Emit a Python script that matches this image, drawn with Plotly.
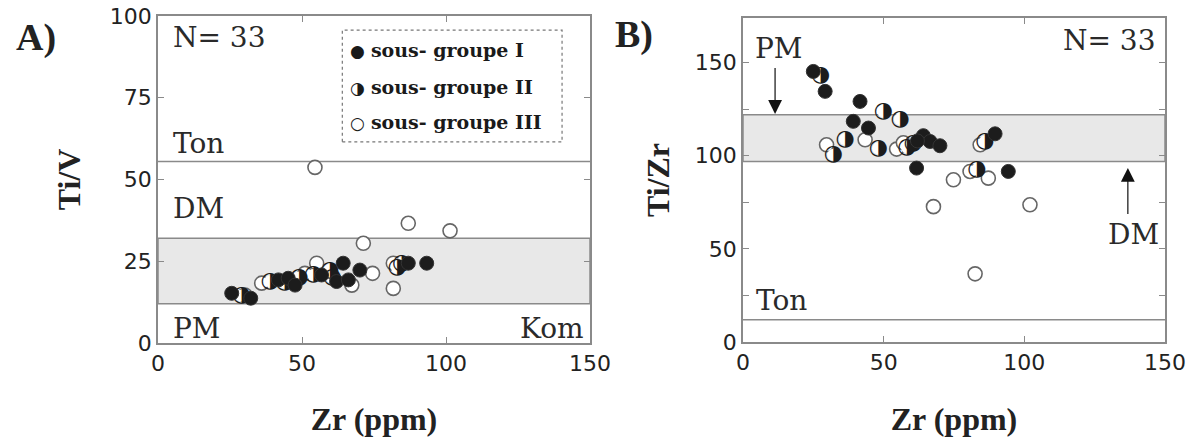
import plotly.graph_objects as go

# ---------------- data ----------------
# Panel A : Ti/V vs Zr
zr_a_I   = [25.6, 32.2, 41.8, 45.2, 47.6, 56.8, 62.0, 64.3, 66.1, 70.1, 86.9, 93.3]
tiv_I    = [15.2, 13.7, 19.3, 19.8, 17.7, 20.8, 18.8, 24.4, 19.3, 22.3, 24.4, 24.4]
zr_a_II  = [38.9, 44.0, 53.9, 59.7, 60.5, 84.6, 83.0, 49.0, 29.0]
tiv_II   = [18.8, 18.5, 20.8, 22.3, 20.0, 24.4, 23.0, 20.0, 14.5]
zr_a_III = [30.2, 36.0, 51.0, 55.1, 67.3, 74.5, 71.3, 81.7, 81.7, 54.5, 86.9, 101.4]
tiv_III  = [14.7, 18.3, 21.3, 24.4, 17.7, 21.3, 30.5, 24.4, 16.7, 53.7, 36.6, 34.3]

# Panel B : Ti/Zr vs Zr
zr_b_I   = [25.0, 29.2, 41.6, 39.2, 44.6, 64.1, 66.5, 70.0, 61.7, 89.6, 94.3, 62.0]
tizr_I   = [145.3, 134.6, 129.2, 118.5, 114.9, 110.8, 107.7, 105.4, 93.4, 111.8, 91.6, 108.0]
zr_b_II  = [27.6, 49.9, 55.8, 36.3, 32.1, 48.1, 58.2, 60.5, 86.0, 83.1]
tizr_II  = [143.0, 123.8, 119.7, 109.0, 100.5, 104.1, 104.7, 106.8, 107.7, 92.5]
zr_b_III = [29.7, 43.4, 54.6, 84.3, 80.7, 87.2, 74.8, 67.7, 102.0, 82.5, 57.0]
tizr_III = [105.9, 108.6, 103.6, 105.9, 91.6, 88.0, 87.1, 72.7, 73.7, 36.6, 107.0]

# reference fields / lines
band_a = [12, 32]      # shaded field (Ti/V)
ton_a = 55.5           # Ton line (Ti/V)
band_b = [97, 122]     # shaded field (Ti/Zr)
ton_b = 12             # Ton line (Ti/Zr)

legend_labels = ["sous- groupe I", "sous- groupe II", "sous- groupe III"]
legend_glyphs = ["\u25CF", "\u25D1", "\u25CB"]

DARK = "#1c1c1c"
OPEN_LINE = "#666666"
FRAME = "#8a8a8a"
MS = 14

fig = go.Figure()

def add_groups(xI, yI, xII, yII, xIII, yIII, xa, ya):
    fig.add_trace(go.Scatter(x=xIII, y=yIII, mode="markers", xaxis=xa, yaxis=ya,
                             marker=dict(size=MS, color="white", line=dict(color=OPEN_LINE, width=1.6)),
                             showlegend=False, name=legend_labels[2]))
    fig.add_trace(go.Scatter(x=xII, y=yII, mode="markers+text", xaxis=xa, yaxis=ya,
                             marker=dict(size=MS - 2, color="white", line=dict(width=0)),
                             text=[legend_glyphs[1]] * len(xII), textposition="middle center",
                             textfont=dict(family="DejaVu Sans", size=22, color=DARK),
                             showlegend=False, name=legend_labels[1]))
    fig.add_trace(go.Scatter(x=xI, y=yI, mode="markers", xaxis=xa, yaxis=ya,
                             marker=dict(size=MS, color=DARK, line=dict(color="#333", width=1)),
                             showlegend=False, name=legend_labels[0]))

add_groups(zr_a_I, tiv_I, zr_a_II, tiv_II, zr_a_III, tiv_III, "x", "y")
add_groups(zr_b_I, tizr_I, zr_b_II, tizr_II, zr_b_III, tizr_III, "x2", "y2")

# shapes
shapes = [
    dict(type="rect", xref="x", yref="y", x0=0, x1=150, y0=band_a[0], y1=band_a[1],
         fillcolor="#e8e8e8", line=dict(color=FRAME, width=1.5), layer="below"),
    dict(type="line", xref="x", yref="y", x0=0, x1=150, y0=ton_a, y1=ton_a,
         line=dict(color=FRAME, width=1.5), layer="below"),
    dict(type="rect", xref="x2", yref="y2", x0=0, x1=150, y0=band_b[0], y1=band_b[1],
         fillcolor="#e8e8e8", line=dict(color=FRAME, width=1.5), layer="below"),
    dict(type="line", xref="x2", yref="y2", x0=0, x1=150, y0=ton_b, y1=ton_b,
         line=dict(color=FRAME, width=1.5), layer="below"),
    # legend box
    dict(type="rect", xref="x", yref="y", x0=64, x1=140.3, y0=61.5, y1=95.7,
         fillcolor="rgba(0,0,0,0)", line=dict(color="#777", width=1.2, dash="dot")),
]

lab_font = dict(family="DejaVu Serif", size=28, color="#2a2a2a")
ann = []
def txt(x, y, s, xref="x", yref="y", xanchor="left", font=lab_font):
    ann.append(dict(x=x, y=y, xref=xref, yref=yref, text=s, showarrow=False,
                    xanchor=xanchor, yanchor="middle", font=font))

# panel A labels
txt(4.5, 93.5, "N= 33")
txt(4.5, 61, "Ton")
txt(4.5, 41, "DM")
txt(4.5, 4.5, "PM")
txt(148.5, 4.5, "Kom", xanchor="right")
# legend entries
leg_y = [89.6, 78.3, 67.6]
for g, l, yy in zip(legend_glyphs, legend_labels, leg_y):
    ann.append(dict(x=66.0, y=yy, xref="x", yref="y", showarrow=False, xanchor="left", yanchor="middle",
                    text=f"<span style='font-family:DejaVu Sans;font-size:17px'>{g}</span> <b>{l}</b>",
                    font=dict(family="DejaVu Serif", size=19, color="#1a1a1a")))

# panel B labels
txt(3.5, 157.5, "PM", "x2", "y2")
txt(147.5, 162, "N= 33", "x2", "y2", xanchor="right")
txt(148.5, 57.5, "DM", "x2", "y2", xanchor="right")
txt(4.0, 22.5, "Ton", "x2", "y2")
# arrows
ann.append(dict(x=11.4, y=122.5, ax=11.4, ay=148, xref="x2", yref="y2", axref="x2", ayref="y2",
                text="", showarrow=True, arrowhead=2, arrowsize=2.3, arrowwidth=1.2, arrowcolor="#111"))
ann.append(dict(x=136.8, y=93.5, ax=136.8, ay=68, xref="x2", yref="y2", axref="x2", ayref="y2",
                text="", showarrow=True, arrowhead=2, arrowsize=2.3, arrowwidth=1.2, arrowcolor="#111"))

# panel letters
pfont = dict(family="Liberation Serif", size=38, color="#222")
ann.append(dict(x=36 / 1193, y=1 - 37 / 437, xref="paper", yref="paper", text="<b>A)</b>",
                showarrow=False, xanchor="center", yanchor="middle", font=pfont))
ann.append(dict(x=634 / 1193, y=1 - 35 / 437, xref="paper", yref="paper", text="<b>B)</b>",
                showarrow=False, xanchor="center", yanchor="middle", font=pfont))

tickfont = dict(family="DejaVu Sans", size=22, color="#222")
titlefont = dict(family="Liberation Serif", size=32, color="#222")
axis_common = dict(showline=True, linecolor=FRAME, linewidth=1.5, mirror="ticks",
                   ticks="inside", ticklen=6, tickcolor=FRAME, tickwidth=1.3,
                   showgrid=False, zeroline=False, tickfont=tickfont, automargin=False)

fig.update_layout(
    width=1193, height=437,
    margin=dict(l=0, r=0, t=0, b=0),
    paper_bgcolor="white", plot_bgcolor="white",
    showlegend=False,
    shapes=shapes, annotations=ann,
    xaxis=dict(domain=[158 / 1193, 590 / 1193], range=[0, 150], dtick=50, anchor="y",
               title=dict(text="<b>Zr (ppm)</b>", font=titlefont, standoff=34), **axis_common),
    yaxis=dict(domain=[1 - 343 / 437, 1 - 16 / 437], range=[0, 100], dtick=25, anchor="x",
               title=dict(text="<b>Ti/V</b>", font=titlefont, standoff=20), **axis_common),
    xaxis2=dict(domain=[743 / 1193, 1165 / 1193], range=[0, 150], dtick=50, anchor="y2",
                title=dict(text="<b>Zr (ppm)</b>", font=titlefont, standoff=34), **axis_common),
    yaxis2=dict(domain=[1 - 342 / 437, 1 - 18 / 437], range=[0, 174], tickvals=[0, 50, 100, 150],
                anchor="x2", minor=dict(dtick=25, ticks="inside", ticklen=6, tickcolor=FRAME),
                title=dict(text="<b>Ti/Zr</b>", font=titlefont, standoff=16), **axis_common),
)

fig.write_html("out.html")
